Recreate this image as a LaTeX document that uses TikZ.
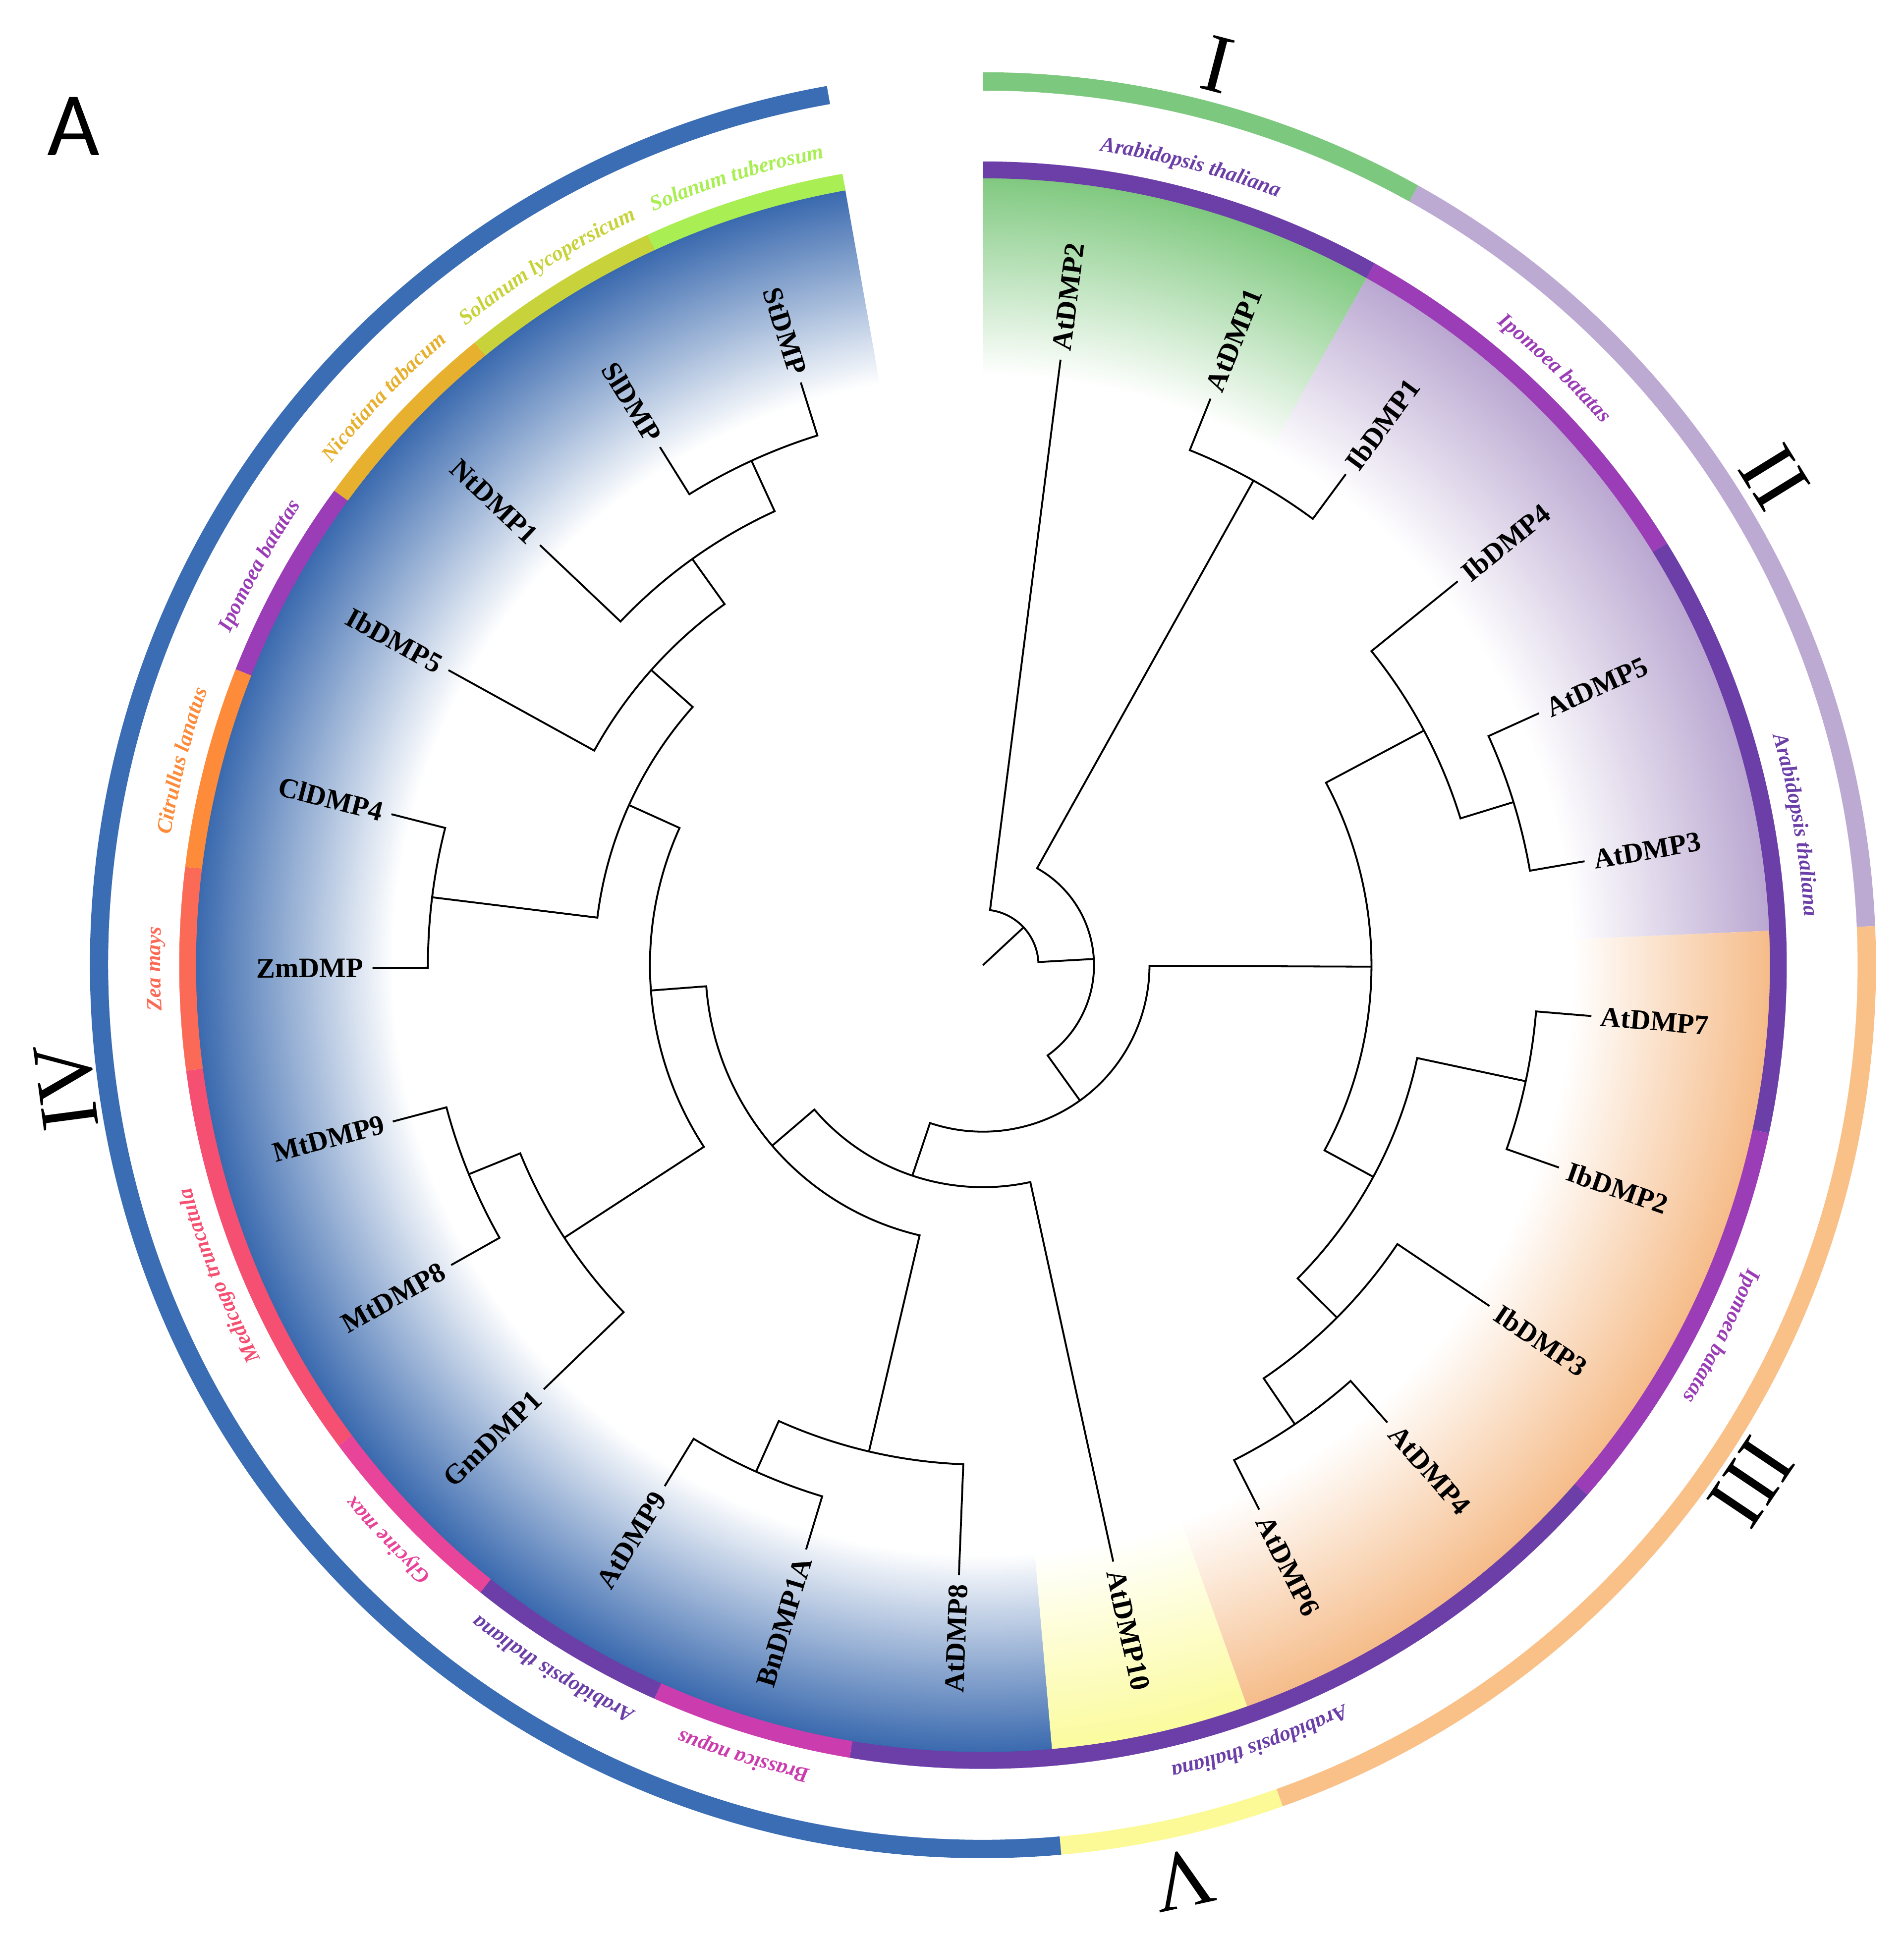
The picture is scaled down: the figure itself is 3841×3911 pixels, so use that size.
\documentclass[tikz,border=0pt]{standalone}
\usepackage{fontspec}
\setmainfont{Liberation Serif}
\newfontfamily\afont{Carlito}
\usetikzlibrary{decorations.text}

% species ring colours
\definecolor{cAth}{HTML}{6C3FA8}
\definecolor{cIpo}{HTML}{9B3DB6}
\definecolor{cBna}{HTML}{CB3CAE}
\definecolor{cGma}{HTML}{E8449A}
\definecolor{cMtr}{HTML}{F54F72}
\definecolor{cZma}{HTML}{FB6A56}
\definecolor{cCla}{HTML}{FE8B3A}
\definecolor{cNta}{HTML}{E7B12F}
\definecolor{cSly}{HTML}{C8D33B}
\definecolor{cStu}{HTML}{A9EE52}
% clade ring colours
\definecolor{kI}{HTML}{7DC87F}
\definecolor{kII}{HTML}{BCAAD3}
\definecolor{kIII}{HTML}{F9C087}
\definecolor{kV}{HTML}{FCFA97}
\definecolor{kIV}{HTML}{3A6DB3}
% sector colours
\definecolor{sGreen}{HTML}{7CC77C}
\definecolor{sLav}{HTML}{B8A5D0}
\definecolor{sOrange}{HTML}{F5BA86}
\definecolor{sYellow}{HTML}{FBFB9B}
\definecolor{sBlue}{HTML}{3465AC}

\pgfdeclareradialshading{shGreen}{\pgfpoint{0bp}{0bp}}{color(0bp)=(white); color(18.6bp)=(white); color(25bp)=(sGreen); color(50bp)=(sGreen)}
\pgfdeclareradialshading{shLav}{\pgfpoint{0bp}{0bp}}{color(0bp)=(white); color(18.6bp)=(white); color(25bp)=(sLav); color(50bp)=(sLav)}
\pgfdeclareradialshading{shOrange}{\pgfpoint{0bp}{0bp}}{color(0bp)=(white); color(18.6bp)=(white); color(25bp)=(sOrange); color(50bp)=(sOrange)}
\pgfdeclareradialshading{shYellow}{\pgfpoint{0bp}{0bp}}{color(0bp)=(white); color(18.6bp)=(white); color(25bp)=(sYellow); color(50bp)=(sYellow)}
\pgfdeclareradialshading{shBlue}{\pgfpoint{0bp}{0bp}}{color(0bp)=(white); color(18.6bp)=(white); color(25bp)=(sBlue); color(50bp)=(sBlue)}

\newcommand\splfont{\fontsize{12.3}{14}\selectfont\bfseries\itshape}

% annular segment: colour, angle1, angle2, r in, r out
\newcommand\annseg[5]{\fill[#1] ({#2}:#4) arc[start angle=#2, end angle=#3, radius=#4] -- ({#3}:#5) arc[start angle=#3, end angle=#2, radius=#5] -- cycle;}
% shaded clade sector: shading, angle1, angle2
\newcommand\cladesector[3]{\begin{scope}\clip (0,0) -- ({#2}:1700) arc[start angle=#2, end angle=#3, radius=1700] -- cycle;
\shade[shading=#1] (0,0) circle[radius=1600];\end{scope}}
% tree node: radius, child1 angle, child1 radius, child2 angle, child2 radius
\newcommand\tnode[5]{\draw[tree] ({#2}:#3) -- ({#2}:#1) arc[start angle=#2, end angle=#4, radius=#1] -- ({#4}:#5);}
% species label along the arc: centre angle, colour, text
\newcommand\splabel[3]{\path[decorate, decoration={text along path, text align=center, text={|\splfont\color{#2}|#3}}] ({#1+25}:1660) arc[start angle=#1+25, end angle=#1-25, radius=1660];}

\tikzset{
  tree/.style={line width=0.38mm, black, line join=miter, line cap=butt},
  leafR/.style={font=\fontsize{16.2}{18}\selectfont\bfseries, inner sep=0pt, anchor=west},
  leafL/.style={font=\fontsize{16.2}{18}\selectfont\bfseries, inner sep=0pt, anchor=east},
  numeral/.style={font=\fontsize{48}{50}\selectfont, inner sep=0pt, anchor=center},
}

\begin{document}
\begin{tikzpicture}[x=0.1mm, y=0.1mm]
\fill[white] (-1983.5,-1963.2) rectangle (1857.5,1947.8);
\useasboundingbox (-1983.5,-1963.2) rectangle (1857.5,1947.8);

% clade sectors
\cladesector{shGreen}{60.83}{90}
\cladesector{shLav}{2.51}{60.83}
\cladesector{shOrange}{-70.39}{2.51}
\cladesector{shYellow}{-84.97}{-70.39}
\cladesector{shBlue}{-259.93}{-84.97}

% species ring
\annseg{cAth}{60.83}{90}{1588}{1622}
\annseg{cIpo}{31.67}{60.83}{1588}{1622}
\annseg{cAth}{-12.07}{31.67}{1588}{1622}
\annseg{cIpo}{-41.23}{-12.07}{1588}{1622}
\annseg{cAth}{-99.55}{-41.23}{1588}{1622}
\annseg{cBna}{-114.13}{-99.55}{1588}{1622}
\annseg{cAth}{-128.71}{-114.13}{1588}{1622}
\annseg{cGma}{-143.29}{-128.71}{1588}{1622}
\annseg{cMtr}{-172.45}{-143.29}{1588}{1622}
\annseg{cZma}{-187.03}{-172.45}{1588}{1622}
\annseg{cCla}{-201.61}{-187.03}{1588}{1622}
\annseg{cIpo}{-216.19}{-201.61}{1588}{1622}
\annseg{cNta}{-230.77}{-216.19}{1588}{1622}
\annseg{cSly}{-245.35}{-230.77}{1588}{1622}
\annseg{cStu}{-259.93}{-245.35}{1588}{1622}

% clade ring
\annseg{kI}{60.83}{90}{1765}{1802}
\annseg{kII}{2.51}{60.83}{1765}{1802}
\annseg{kIII}{-70.39}{2.51}{1765}{1802}
\annseg{kV}{-84.97}{-70.39}{1765}{1802}
\annseg{kIV}{-259.93}{-84.97}{1765}{1802}

% tree
\coordinate (root) at (0,0);
\coordinate (n0) at (42.96:112);
\draw[tree] (root) -- (n0);
\tnode{112}{82.70}{1232}{3.22}{224}
\tnode{224}{60.83}{1120}{-54.385}{336}
\tnode{1120}{68.12}{1232}{53.54}{1232}
\tnode{336}{-0.22}{784}{-108.55}{448}
\tnode{784}{28.02}{1008}{-28.47}{896}
\tnode{1008}{38.96}{1232}{17.09}{1120}
\tnode{1120}{24.38}{1232}{9.80}{1232}
\tnode{896}{-12.07}{1120}{-44.875}{1008}
\tnode{1120}{-4.78}{1232}{-19.36}{1232}
\tnode{1008}{-33.94}{1232}{-55.81}{1120}
\tnode{1120}{-48.52}{1232}{-63.10}{1232}
\tnode{448}{-77.68}{1232}{-139.42}{560}
\tnode{560}{-103.195}{1008}{-175.64}{672}
\tnode{1008}{-92.26}{1232}{-114.13}{1120}
\tnode{1120}{-106.84}{1232}{-121.42}{1232}
\tnode{672}{-146.935}{1008}{-204.34}{784}
\tnode{1008}{-136.00}{1232}{-157.87}{1120}
\tnode{1120}{-150.58}{1232}{-165.16}{1232}
\tnode{784}{-187.03}{1120}{-221.66}{896}
\tnode{1120}{-194.32}{1232}{-179.74}{1232}
\tnode{896}{-208.90}{1232}{-234.415}{1008}
\tnode{1008}{-223.48}{1232}{-245.35}{1120}
\tnode{1120}{-238.06}{1232}{-252.64}{1232}

% leaf labels
\node[leafR, rotate=82.70] (AtDMP2) at (82.70:1250) {AtDMP2};
\node[leafR, rotate=68.12] (AtDMP1) at (68.12:1250) {AtDMP1};
\node[leafR, rotate=53.54] (IbDMP1) at (53.54:1250) {IbDMP1};
\node[leafR, rotate=38.96] (IbDMP4) at (38.96:1250) {IbDMP4};
\node[leafR, rotate=24.38] (AtDMP5) at (24.38:1250) {AtDMP5};
\node[leafR, rotate=9.80] (AtDMP3) at (9.80:1250) {AtDMP3};
\node[leafR, rotate=-4.78] (AtDMP7) at (-4.78:1250) {AtDMP7};
\node[leafR, rotate=-19.36] (IbDMP2) at (-19.36:1250) {IbDMP2};
\node[leafR, rotate=-33.94] (IbDMP3) at (-33.94:1250) {IbDMP3};
\node[leafR, rotate=-48.52] (AtDMP4) at (-48.52:1250) {AtDMP4};
\node[leafR, rotate=-63.10] (AtDMP6) at (-63.10:1250) {AtDMP6};
\node[leafR, rotate=-77.68] (AtDMP10) at (-77.68:1250) {AtDMP10};
\node[leafL, rotate=87.74] (AtDMP8) at (-92.26:1250) {AtDMP8};
\node[leafL, rotate=73.16] (BnDMP1A) at (-106.84:1250) {BnDMP1A};
\node[leafL, rotate=58.58] (AtDMP9) at (-121.42:1250) {AtDMP9};
\node[leafL, rotate=44.00] (GmDMP1) at (-136.00:1250) {GmDMP1};
\node[leafL, rotate=29.42] (MtDMP8) at (-150.58:1250) {MtDMP8};
\node[leafL, rotate=14.84] (MtDMP9) at (-165.16:1250) {MtDMP9};
\node[leafL, rotate=0.26] (ZmDMP) at (-179.74:1250) {ZmDMP};
\node[leafL, rotate=-14.32] (ClDMP4) at (-194.32:1250) {ClDMP4};
\node[leafL, rotate=-28.90] (IbDMP5) at (-208.90:1250) {IbDMP5};
\node[leafL, rotate=-43.48] (NtDMP1) at (-223.48:1250) {NtDMP1};
\node[leafL, rotate=-58.06] (SlDMP) at (-238.06:1250) {SlDMP};
\node[leafL, rotate=-72.64] (StDMP) at (-252.64:1250) {StDMP};

% species labels
\splabel{75.415}{cAth}{Arabidopsis thaliana}
\splabel{46.25}{cIpo}{Ipomoea batatas}
\splabel{9.80}{cAth}{Arabidopsis thaliana}
\splabel{-26.65}{cIpo}{Ipomoea batatas}
\splabel{-70.39}{cAth}{Arabidopsis thaliana}
\splabel{-106.84}{cBna}{Brassica napus}
\splabel{-121.42}{cAth}{Arabidopsis thaliana}
\splabel{-136.00}{cGma}{Glycine max}
\splabel{-157.87}{cMtr}{Medicago truncatula}
\splabel{-179.74}{cZma}{Zea mays}
\splabel{-194.32}{cCla}{Citrullus lanatus}
\splabel{-208.90}{cIpo}{Ipomoea batatas}
\splabel{-223.48}{cNta}{Nicotiana tabacum}
\splabel{-238.06}{cSly}{Solanum lycopersicum}
\splabel{-252.64}{cStu}{Solanum tuberosum}

% clade numerals
\node[numeral, rotate=-14.585] (cladeI) at (75.415:1878) {I};
\node[numeral, rotate=-58.33] (cladeII) at (31.67:1876) {II};
\node[numeral, rotate=-123.94] (cladeIII) at (-33.94:1868) {III};
\node[numeral, rotate=-167.68] (cladeV) at (-77.68:1888) {V};
\node[numeral, rotate=97.55] (cladeIV) at (187.55:1865) {IV};

% panel letter
\node[font=\afont\fontsize{52}{54}\selectfont, anchor=base, inner sep=0pt] (panelA) at (-1835.2,1633.8) {A};
\end{tikzpicture}
\end{document}
